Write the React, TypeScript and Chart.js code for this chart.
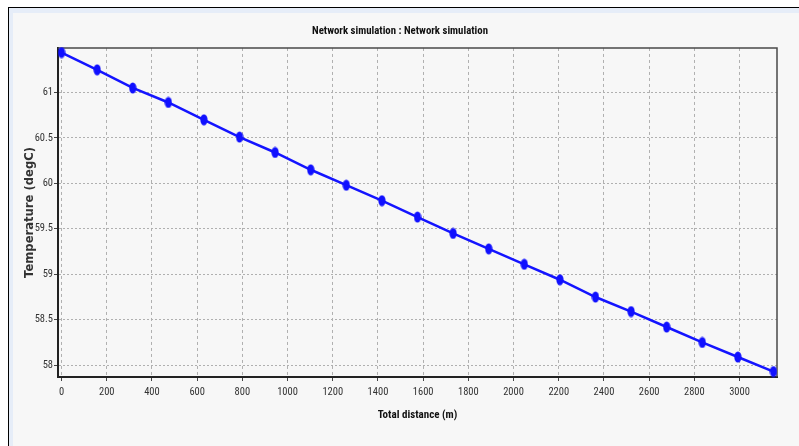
import React, { useEffect, useRef } from "react";
import { Chart, registerables } from "chart.js";

Chart.register(...registerables);

const distances = [0, 157.5, 315, 472.5, 630, 787.5, 945, 1102.5, 1260, 1417.5, 1575, 1732.5, 1890, 2047.5, 2205, 2362.5, 2520, 2677.5, 2835, 2992.5, 3150];
const temperatures = [61.44, 61.25, 61.05, 60.89, 60.70, 60.51, 60.34, 60.15, 59.98, 59.81, 59.63, 59.45, 59.28, 59.11, 58.94, 58.75, 58.59, 58.42, 58.25, 58.09, 57.93];
const xTickValues = [0, 200, 400, 600, 800, 1000, 1200, 1400, 1600, 1800, 2000, 2200, 2400, 2600, 2800, 3000];
const yTickValues = [58, 58.5, 59, 59.5, 60, 60.5, 61];
const titleText = "Network simulation : Network simulation";
const xTitle = "Total distance (m)";
const yTitle = "Temperature (degC)";

const NARROW = "'Roboto Condensed', 'DejaVu Sans Condensed', sans-serif";

const framePlugin = {
  id: "frame",
  beforeDatasetsDraw(chart: any) {
    const { ctx, chartArea: a } = chart;
    ctx.save();
    ctx.strokeStyle = "#4a4a4a";
    ctx.lineWidth = 1.5;
    ctx.beginPath();
    ctx.moveTo(a.left, a.top);
    ctx.lineTo(a.right, a.top);
    ctx.lineTo(a.right, a.bottom);
    ctx.stroke();
    ctx.restore();
  },
};

export default function App() {
  const ref = useRef<HTMLCanvasElement>(null);
  useEffect(() => {
    const marker = document.createElement("canvas");
    marker.width = 8;
    marker.height = 12;
    const mc = marker.getContext("2d")!;
    mc.fillStyle = "#1010ff";
    mc.beginPath();
    mc.ellipse(4, 6, 3.6, 5.6, 0, 0, Math.PI * 2);
    mc.fill();

    const chart = new Chart(ref.current!, {
      type: "line",
      data: {
        datasets: [
          {
            data: distances.map((d, i) => ({ x: d, y: temperatures[i] })),
            borderColor: "#1414ff",
            backgroundColor: "#1414ff",
            borderWidth: 2.5,
            pointStyle: marker as any,
            pointRadius: 4,
            clip: false as any,
          },
        ],
      },
      options: {
        animation: false,
        responsive: false,
        devicePixelRatio: 1,
        layout: { padding: { left: 23, right: 22, top: 0, bottom: 0 } },
        plugins: {
          legend: { display: false },
          tooltip: { enabled: false },
          title: {
            display: true,
            text: titleText,
            color: "#111",
            font: { family: NARROW, size: 10.8, weight: "bold", lineHeight: 1.2 },
            padding: { top: 24.5, bottom: 10.5 },
          },
        },
        scales: {
          x: {
            type: "linear",
            min: -15.75,
            max: 3165.75,
            afterFit: (s: any) => { s.height = 69; },
            afterBuildTicks: (s: any) => { s.ticks = xTickValues.map((v) => ({ value: v })); },
            ticks: {
              callback: (v: any) => String(v),
              color: "#333",
              font: { family: NARROW, size: 10.5 },
              padding: 5,
              maxRotation: 0,
              autoSkip: false,
            },
            grid: {
              color: "#b0b0b0",
              lineWidth: 1,
              tickLength: 4,
              tickColor: "#444",
              tickBorderDash: [],
            } as any,
            border: { display: true, color: "#222", width: 2, dash: [3, 3] } as any,
            title: {
              display: true,
              text: xTitle,
              color: "#111",
              font: { family: NARROW, size: 11, weight: "bold", lineHeight: 1.2 },
              padding: { top: 0, bottom: 24.4 },
            },
          },
          y: {
            type: "linear",
            min: 57.87,
            max: 61.49,
            afterFit: (s: any) => { s.width = 35; },
            afterBuildTicks: (s: any) => { s.ticks = yTickValues.map((v) => ({ value: v })); },
            ticks: {
              callback: (v: any) => String(v),
              color: "#333",
              font: { family: NARROW, size: 10.5 },
              padding: 1,
            },
            grid: {
              color: "#b0b0b0",
              lineWidth: 1,
              tickLength: 4,
              tickColor: "#444",
              tickBorderDash: [],
            } as any,
            border: { display: true, color: "#222", width: 2, dash: [2, 2] } as any,
            title: {
              display: true,
              text: yTitle,
              color: "#333",
              font: { family: "'DejaVu Sans', sans-serif", size: 11.6, weight: "bold", lineHeight: 1.2 },
              padding: { top: 0, bottom: 0 },
            },
          },
        },
      },
      plugins: [framePlugin],
    });
    return () => chart.destroy();
  }, []);

  return (
    <div>
      <div
        style={{
          position: "fixed",
          left: 8,
          top: 7,
          right: 0,
          bottom: 0,
          borderLeft: "1px solid #000",
          borderTop: "1px solid #000",
          background: "#e6edf8",
        }}
      >
        <div style={{ position: "absolute", left: 4, top: 5, right: 0, bottom: 0, background: "#f7f7f7" }} />
      </div>
      <canvas
        ref={ref}
        width={799}
        height={446}
        style={{ position: "fixed", left: 0, top: 0, width: 799, height: 446 }}
      />
    </div>
  );
}
